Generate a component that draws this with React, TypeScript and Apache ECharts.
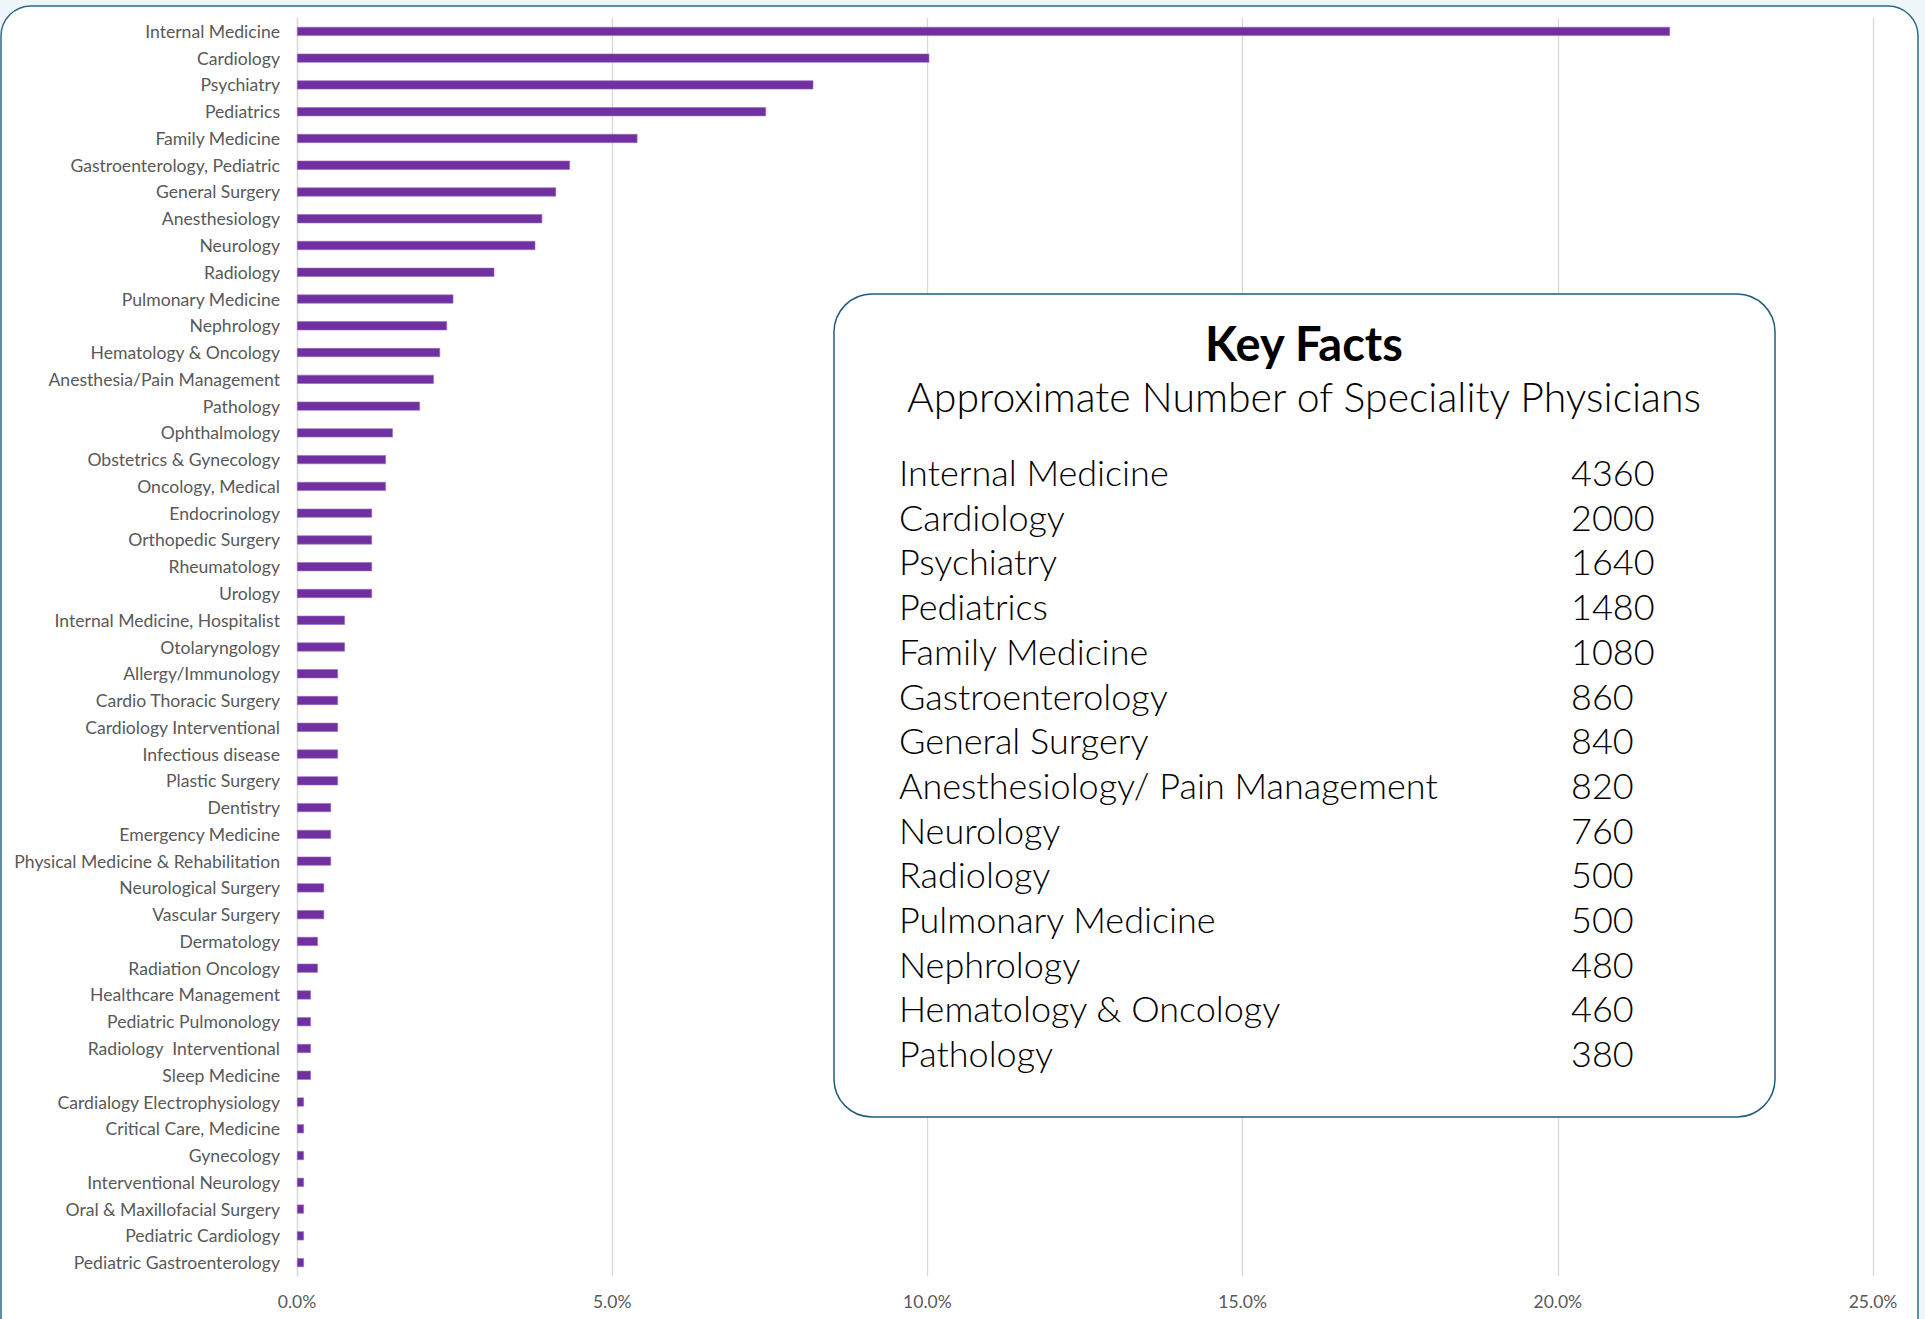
import React, { useEffect, useRef } from "react";
import * as echarts from "echarts";

const categories = [
  "Internal Medicine", "Cardiology", "Psychiatry", "Pediatrics", "Family Medicine",
  "Gastroenterology, Pediatric", "General Surgery", "Anesthesiology", "Neurology", "Radiology",
  "Pulmonary Medicine", "Nephrology", "Hematology & Oncology", "Anesthesia/Pain Management", "Pathology",
  "Ophthalmology", "Obstetrics & Gynecology", "Oncology, Medical", "Endocrinology", "Orthopedic Surgery",
  "Rheumatology", "Urology", "Internal Medicine, Hospitalist", "Otolaryngology", "Allergy/Immunology",
  "Cardio Thoracic Surgery", "Cardiology Interventional", "Infectious disease", "Plastic Surgery", "Dentistry",
  "Emergency Medicine", "Physical Medicine & Rehabilitation", "Neurological Surgery", "Vascular Surgery", "Dermatology",
  "Radiation Oncology", "Healthcare Management", "Pediatric Pulmonology", "Radiology  Interventional", "Sleep Medicine",
  "Cardialogy Electrophysiology", "Critical Care, Medicine", "Gynecology", "Interventional Neurology", "Oral & Maxillofacial Surgery",
  "Pediatric Cardiology", "Pediatric Gastroenterology",
];

const sharePercent = [
  21.78, 10.03, 8.19, 7.44, 5.40,
  4.33, 4.11, 3.89, 3.78, 3.13,
  2.48, 2.38, 2.27, 2.17, 1.95,
  1.52, 1.41, 1.41, 1.19, 1.19,
  1.19, 1.19, 0.76, 0.76, 0.65,
  0.65, 0.65, 0.65, 0.65, 0.54,
  0.54, 0.54, 0.43, 0.43, 0.33,
  0.33, 0.22, 0.22, 0.22, 0.22,
  0.11, 0.11, 0.11, 0.11, 0.11,
  0.11, 0.11,
];

const xTicks = [0, 5, 10, 15, 20, 25];

const keyFactsTitle = "Key Facts";
const keyFactsSubtitle = "Approximate Number of Speciality Physicians";
const keyFactNames = [
  "Internal Medicine", "Cardiology", "Psychiatry", "Pediatrics", "Family Medicine",
  "Gastroenterology", "General Surgery", "Anesthesiology/ Pain Management", "Neurology", "Radiology",
  "Pulmonary Medicine", "Nephrology", "Hematology & Oncology", "Pathology",
];
const keyFactCounts = [4360, 2000, 1640, 1480, 1080, 860, 840, 820, 760, 500, 500, 480, 460, 380];

const W = 1925;
const H = 1319;
const BOX_FONT = "Lato, 'Noto Sans', sans-serif";

export default function App() {
  const ref = useRef<HTMLDivElement>(null);
  useEffect(() => {
    if (!ref.current) return;
    const chart = echarts.init(ref.current, undefined, { renderer: "svg" });

    const boxX = 834, boxY = 294, boxW = 941, boxH = 823;
    const rowY0 = 472, rowStep = 44.7;
    const rows: any[] = [];
    keyFactNames.forEach((name, i) => {
      rows.push({
        type: "text", z: 110, x: 899, y: rowY0 + i * rowStep,
        style: { text: name, fontSize: 36, fontFamily: BOX_FONT, fontWeight: 300, fill: "#000", verticalAlign: "middle", align: "left" },
      });
      rows.push({
        type: "text", z: 110, x: 1571, y: rowY0 + i * rowStep,
        style: { text: String(keyFactCounts[i]), fontSize: 36, fontFamily: BOX_FONT, fontWeight: 300, fill: "#000", verticalAlign: "middle", align: "left" },
      });
    });

    chart.setOption({
      animation: false,
      backgroundColor: "#eef6fa",
      graphic: [
        {
          type: "rect", z: -10, silent: true,
          shape: { x: 1, y: 6, width: 1917, height: 1345, r: 30 },
          style: { fill: "#ffffff", stroke: "#2b6a88", lineWidth: 1.5 },
        },
        {
          type: "rect", z: 100,
          shape: { x: boxX, y: boxY, width: boxW, height: boxH, r: 38 },
          style: { fill: "#ffffff", stroke: "#1f5c7a", lineWidth: 1.5 },
        },
        {
          type: "text", z: 110, x: 1304, y: 343,
          style: { text: keyFactsTitle, fontSize: 47, fontWeight: "bold", fontFamily: BOX_FONT, fill: "#000", align: "center", verticalAlign: "middle" },
        },
        {
          type: "text", z: 110, x: 1304, y: 396,
          style: { text: keyFactsSubtitle, fontSize: 41, fontWeight: 300, fontFamily: BOX_FONT, fill: "#000", align: "center", verticalAlign: "middle" },
        },
        ...rows,
      ],
      grid: { left: 297, right: 52, top: 18, bottom: 43, containLabel: false },
      xAxis: {
        type: "value",
        min: 0, max: 25, interval: 5,
        axisLine: { show: false },
        axisTick: { show: false },
        splitLine: { show: true, lineStyle: { color: "#d9d9d9", width: 1.3 } },
        axisLabel: {
          color: "#595959", fontSize: 17.5, fontFamily: "Lato, sans-serif", margin: 16,
          formatter: (v: number) => (xTicks.includes(v) ? v.toFixed(1) + "%" : ""),
        },
      },
      yAxis: {
        type: "category",
        data: categories,
        inverse: true,
        axisLine: { show: true, lineStyle: { color: "#d9d9d9", width: 1.3 } },
        axisTick: { show: false },
        axisLabel: { color: "#595959", fontSize: 17.6, fontFamily: "Lato, sans-serif", margin: 17 },
      },
      series: [
        {
          type: "bar",
          data: sharePercent,
          barWidth: 9,
          itemStyle: { color: "#7030a0", borderColor: "#9a6cc2", borderWidth: 0.6 },
        },
      ],
    });
    return () => chart.dispose();
  }, []);
  return <div ref={ref} style={{ position: "absolute", left: 0, top: 0, width: W, height: H }} />;
}
